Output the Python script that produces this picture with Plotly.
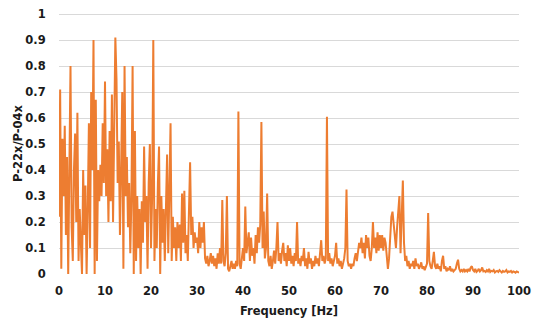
import numpy as np
import plotly.graph_objects as go

freq_step = 0.25
seg_00_10 = [0.22,0.71,0.02,0.52,0.30,0.57,0.15,0.45,0.0,0.45, 0.80,0.18,0.05,0.40,0.54,0.20,0.62,0.05,0.25,0.12,
             0.0,0.40,0.15,0.34,0.0,0.25,0.58,0.10,0.70,0.40, 0.90,0.0,0.67,0.05,0.40,0.28,0.42,0.30,0.58,0.35]
seg_10_20 = [0.74,0.30,0.48,0.20,0.55,0.28,0.69,0.20,0.52,0.91, 0.75,0.35,0.51,0.15,0.40,0.70,0.02,0.80,0.30,0.45,
             0.18,0.35,0.08,0.30,0.80,0.0,0.55,0.05,0.30,0.10, 0.25,0.0,0.28,0.12,0.49,0.20,0.30,0.02,0.35,0.50]
seg_20_30 = [0.10,0.30,0.90,0.05,0.25,0.10,0.35,0.49,0.0,0.30, 0.12,0.25,0.05,0.30,0.46,0.08,0.35,0.58,0.05,0.22,
             0.10,0.18,0.05,0.20,0.10,0.19,0.05,0.31,0.12,0.32, 0.08,0.15,0.05,0.25,0.43,0.15,0.22,0.10,0.16,0.12]
seg_30_40 = [0.14,0.08,0.20,0.10,0.18,0.12,0.20,0.06,0.04,0.07, 0.03,0.05,0.08,0.04,0.07,0.03,0.06,0.02,0.08,0.04,
             0.10,0.04,0.285,0.05,0.03,0.08,0.30,0.02,0.01,0.03, 0.05,0.02,0.04,0.02,0.05,0.03,0.625,0.04,0.02,0.06]
seg_40_50 = [0.10,0.05,0.26,0.08,0.12,0.16,0.05,0.14,0.07,0.10, 0.04,0.15,0.08,0.18,0.12,0.19,0.585,0.10,0.24,0.06,
             0.10,0.31,0.05,0.03,0.07,0.02,0.05,0.09,0.04,0.10, 0.20,0.05,0.08,0.04,0.09,0.12,0.05,0.08,0.03,0.11]
seg_50_60 = [0.05,0.10,0.04,0.07,0.03,0.08,0.05,0.20,0.04,0.06, 0.03,0.07,0.05,0.10,0.03,0.06,0.02,0.085,0.04,0.06,
             0.02,0.05,0.03,0.07,0.04,0.06,0.03,0.08,0.13,0.05, 0.07,0.04,0.06,0.605,0.05,0.08,0.04,0.06,0.03,0.05]
seg_60_70 = [0.07,0.12,0.04,0.06,0.03,0.05,0.02,0.04,0.06,0.10, 0.325,0.05,0.03,0.04,0.02,0.04,0.03,0.06,0.08,0.05,
             0.09,0.12,0.10,0.14,0.08,0.12,0.06,0.15,0.10,0.14, 0.07,0.05,0.10,0.20,0.10,0.14,0.08,0.16,0.09,0.15]
seg_70_80 = [0.10,0.15,0.09,0.14,0.12,0.05,0.02,0.06,0.15,0.22, 0.24,0.19,0.14,0.10,0.18,0.25,0.30,0.08,0.20,0.36,
             0.12,0.05,0.07,0.03,0.05,0.02,0.04,0.03,0.05,0.02, 0.06,0.03,0.04,0.02,0.03,0.045,0.02,0.03,0.015,0.03]
seg_80_90 = [0.04,0.235,0.05,0.03,0.02,0.05,0.085,0.03,0.02,0.04, 0.02,0.03,0.01,0.05,0.07,0.02,0.03,0.01,0.02,0.015,
             0.03,0.01,0.02,0.01,0.015,0.02,0.04,0.055,0.02,0.01, 0.015,0.01,0.02,0.01,0.015,0.01,0.02,0.01,0.025,0.03]
seg_90_100 = [0.015,0.01,0.02,0.008,0.012,0.02,0.01,0.015,0.025,0.01, 0.012,0.008,0.015,0.01,0.02,0.008,0.012,0.01,0.015,0.006,
              0.01,0.012,0.008,0.015,0.01,0.006,0.012,0.008,0.01,0.015, 0.006,0.01,0.008,0.012,0.006,0.01,0.008,0.005,0.01,0.006,
              0.005]

ratio = (seg_00_10 + seg_10_20 + seg_20_30 + seg_30_40 + seg_40_50 +
         seg_50_60 + seg_60_70 + seg_70_80 + seg_80_90 + seg_90_100)
freq = np.arange(len(ratio)) * freq_step

x_ticks = [0, 10, 20, 30, 40, 50, 60, 70, 80, 90, 100]
y_ticks = [0, 0.1, 0.2, 0.3, 0.4, 0.5, 0.6, 0.7, 0.8, 0.9, 1]
y_tick_labels = ["0", "0.1", "0.2", "0.3", "0.4", "0.5", "0.6", "0.7", "0.8", "0.9", "1"]

font_family = "DejaVu Sans, sans-serif"
tick_font = dict(size=11.5, family=font_family, weight=700, color="#1a1a1a")
title_font = dict(size=11.5, family=font_family, weight=700, color="#1a1a1a")

fig = go.Figure()
fig.add_trace(go.Scatter(x=freq, y=ratio, mode="lines",
                         line=dict(color="#ED7D31", width=2), showlegend=False))

fig.update_layout(
    width=534, height=320,
    margin=dict(l=59, r=15, t=13, b=46),
    paper_bgcolor="white", plot_bgcolor="white",
    font=dict(family=font_family, size=12, color="#1a1a1a"),
    xaxis=dict(range=[0, 100], tickvals=x_ticks, showgrid=False, zeroline=False,
               showline=False, ticks="outside", ticklen=6, tickcolor="rgba(0,0,0,0)",
               automargin=False, tickfont=tick_font,
               title=dict(text="Frequency [Hz]", standoff=10, font=title_font)),
    yaxis=dict(range=[0, 1.004], tickvals=y_ticks, ticktext=y_tick_labels,
               showgrid=True, gridcolor="#D9D9D9", gridwidth=1, zeroline=False,
               showline=False, ticks="outside", ticklen=10, tickcolor="rgba(0,0,0,0)",
               automargin=False, tickfont=tick_font,
               title=dict(text="P-22x/P-04x", standoff=0, font=title_font)),
)

# remove the browser's default 8px body margin so the figure sits at the page corner
fig.write_html("out.html", config={"displayModeBar": False},
               post_script="document.body.style.margin='0';")
